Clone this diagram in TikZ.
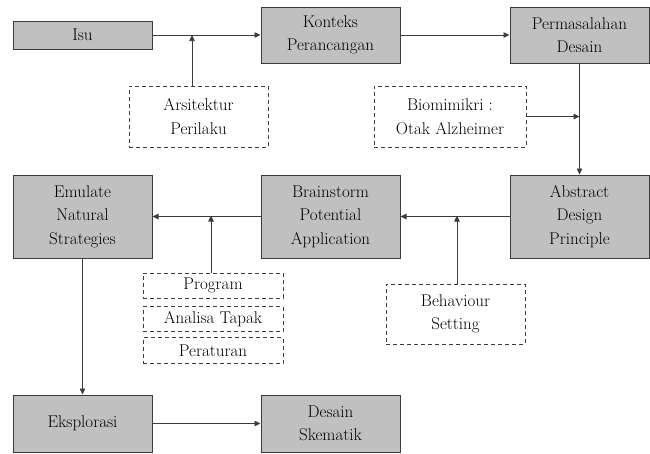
\documentclass[tikz,border=0pt]{standalone}
\usetikzlibrary{arrows.meta,positioning}
\definecolor{boxgray}{RGB}{192,192,192}
\definecolor{linegray}{RGB}{60,60,60}
\tikzset{
    %Define standard arrow tip
    >={Triangle[length=6pt,width=5.5pt]},
    langkah/.style={
      rectangle,
      draw=linegray, line width=1pt,
      fill=boxgray,
      minimum width=139pt,
      align=center,
      font=\fontsize{17}{23.5}\selectfont},
    faktor/.style={
      rectangle,
      draw=linegray, line width=0.9pt,
      dash pattern=on 4pt off 3pt,
      align=center,
      font=\fontsize{17}{23.5}\selectfont},
    alur/.style={
      ->,
      draw=linegray, line width=0.7pt},
}
\begin{document}
\begin{tikzpicture}
    \useasboundingbox (0pt,0pt) rectangle (650pt,-453pt);
    % baris atas
    \node (konteks) [langkah, minimum height=56pt] at (330.5pt,-35pt)
          {Konteks\\Perancangan};
    \node (isu) [langkah, minimum height=28pt] [left=108pt of konteks]
          {Isu};
    \node (masalah) [langkah, minimum height=56pt] [right=109pt of konteks]
          {Permasalahan\\Desain};
    % baris tengah
    \node (brainstorm) [langkah, minimum height=83pt] [below=111pt of konteks]
          {Brainstorm\\Potential\\Application};
    \node (emulate) [langkah, minimum height=83pt] [left=108pt of brainstorm]
          {Emulate\\Natural\\Strategies};
    \node (abstract) [langkah, minimum height=83pt] [right=109pt of brainstorm]
          {Abstract\\Design\\Principle};
    % baris bawah
    \node (eksplorasi) [langkah, minimum height=57pt] [below=136pt of emulate]
          {Eksplorasi};
    \node (skematik) [langkah, minimum height=57pt] [right=108pt of eksplorasi]
          {Desain\\Skematik};
    % kotak putus-putus
    \node (arsitektur) [faktor, minimum width=139pt, minimum height=61pt] at (198.5pt,-116.5pt)
          {Arsitektur\\Perilaku};
    \node (biomimikri) [faktor, minimum width=152pt, minimum height=61pt] at (450pt,-116.5pt)
          {Biomimikri :\\Otak Alzheimer};
    \node (behaviour) [faktor, minimum width=139pt, minimum height=60pt] at (455.5pt,-314pt)
          {Behaviour\\Setting};
    \node (program) [faktor, minimum width=140pt, minimum height=25pt] at (213pt,-285.5pt)
          {Program};
    \node (tapak) [faktor, minimum width=140pt, minimum height=25pt] [below=8pt of program]
          {Analisa Tapak};
    \node (peraturan) [faktor, minimum width=140pt, minimum height=26pt] [below=5pt of tapak]
          {Peraturan};
    % titik temu
    \coordinate (tIsu) at (192pt,-35pt);
    \coordinate (tProgram) at (211pt,-215.5pt);
    \coordinate (tBehaviour) at (457pt,-215.5pt);
    % alur
    \draw [alur] (isu.east |- konteks) -- (konteks.west);
    \draw [alur] (arsitektur.north -| tIsu) -- (tIsu);
    \draw [alur] (konteks) -- (masalah);
    \draw [alur] (biomimikri.east) -- (biomimikri.east -| masalah.south);
    \draw [alur] (masalah) -- (abstract);
    \draw [alur] (abstract) -- (brainstorm);
    \draw [alur] (behaviour.north -| tBehaviour) -- (tBehaviour);
    \draw [alur] (brainstorm) -- (emulate);
    \draw [alur] (program.north -| tProgram) -- (tProgram);
    \draw [alur] (emulate) -- (eksplorasi);
    \draw [alur] (eksplorasi) -- (skematik);
\end{tikzpicture}
\end{document}
